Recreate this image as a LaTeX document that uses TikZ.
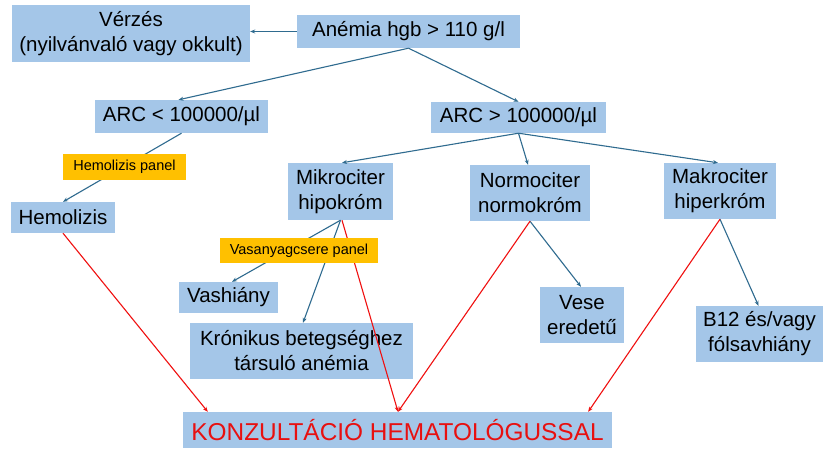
\documentclass[tikz,border=0pt]{standalone}
\usepackage{fontspec}
\setmainfont{Liberation Sans}
\usetikzlibrary{arrows.meta}
\definecolor{boxblue}{HTML}{A4C6E8}
\definecolor{panelor}{HTML}{FFC000}
\definecolor{linkblue}{HTML}{2F6B8F}
\definecolor{linkred}{HTML}{F01010}
\definecolor{txtred}{HTML}{E81010}
\begin{document}
\begin{tikzpicture}[x=1pt,y=-1pt,
  bbox/.style={fill=boxblue, inner sep=0pt, align=center, text=black,
    font=\fontsize{20.5}{25}\selectfont},
  pbox/.style={fill=panelor, inner sep=0pt, align=center, text=black,
    font=\fontsize{14.5}{17}\selectfont},
  blink/.style={draw=linkblue, line width=1.1pt, -{Stealth[length=5pt,width=4pt]}},
  rlink/.style={draw=linkred, line width=1.1pt, -{Stealth[length=5pt,width=4pt]}}]
\fill[white] (0,0) rectangle (825,450);
\useasboundingbox (0,0) rectangle (825,450);
% blue boxes
\node[bbox, minimum width=238pt, minimum height=57pt] (verzes) at (131,33.5) {Vérzés\\(nyilvánvaló vagy okkult)};
\node[bbox, minimum width=223pt, minimum height=33pt] (anemia) at (408.5,31.5) {Anémia hgb > 110 g/l};
\node[bbox, minimum width=173pt, minimum height=33pt] (arcl) at (181.5,116.5) {ARC < 100000/µl};
\node[bbox, minimum width=175pt, minimum height=31pt] (arcg) at (518.5,117.5) {ARC > 100000/µl};
\node[bbox, minimum width=104pt, minimum height=31pt] (hemol) at (63,217.5) {Hemolizis};
\node[bbox, minimum width=105pt, minimum height=57pt] (mikro) at (340.5,191.5) {Mikrociter\\hipokróm};
\node[bbox, minimum width=120pt, minimum height=56pt] (normo) at (530,193) {Normociter\\normokróm};
\node[bbox, minimum width=112pt, minimum height=56pt] (makro) at (720,191) {Makrociter\\hiperkróm};
\node[bbox, minimum width=99pt, minimum height=31pt] (vash) at (228.5,297.5) {Vashiány};
\node[bbox, minimum width=223pt, minimum height=56pt] (kron) at (301.5,351) {Krónikus betegséghez\\társuló anémia};
\node[bbox, minimum width=84pt, minimum height=56pt] (vese) at (582,315) {Vese\\eredetű};
\node[bbox, minimum width=127pt, minimum height=56pt] (b12) at (759.5,334) {B12 és/vagy\\fólsavhiány};
\node[bbox, minimum width=429pt, minimum height=36pt, text=txtred,
  font=\fontsize{24.4}{28}\selectfont] (konz) at (397.5,430) {KONZULTÁCIÓ HEMATOLÓGUSSAL};
% blue connectors
\draw[blink] (anemia.west) -- (verzes.east |- anemia.west);
\draw[blink] (anemia.south) -- ([xshift=-3pt]arcl.north);
\draw[blink] (anemia.south) -- (arcg.north);
\draw[blink] (arcl.south) -- (hemol.north);
\draw[blink] (arcg.south) -- ([xshift=1.5pt]mikro.north);
\draw[blink] (arcg.south) -- ([xshift=-2pt]normo.north);
\draw[blink] (arcg.south) -- ([xshift=-2pt]makro.north);
\draw[blink] (mikro.south) -- ([xshift=3.5pt]vash.north);
\draw[blink] (mikro.south) -- ([xshift=1.5pt]kron.north);
\draw[blink] (normo.south) -- ([xshift=-1pt]vese.north);
\draw[blink] (makro.south) -- ([xshift=-1pt]b12.north);
% red connectors
\draw[rlink] (hemol.south) -- ([xshift=25pt]konz.north west);
\draw[rlink] ([xshift=1.5pt]mikro.south) -- ([xshift=0.5pt]konz.north);
\draw[rlink] (normo.south) -- ([xshift=0.5pt]konz.north);
\draw[rlink] (makro.south) -- ([xshift=-24pt]konz.north east);
% orange panels (on top of the lines)
\node[pbox, minimum width=123pt, minimum height=26pt] (hpanel) at (124.5,167) {Hemolizis panel};
\node[pbox, minimum width=158pt, minimum height=25pt] (vpanel) at (299,250.5) {Vasanyagcsere panel};
\end{tikzpicture}
\end{document}
